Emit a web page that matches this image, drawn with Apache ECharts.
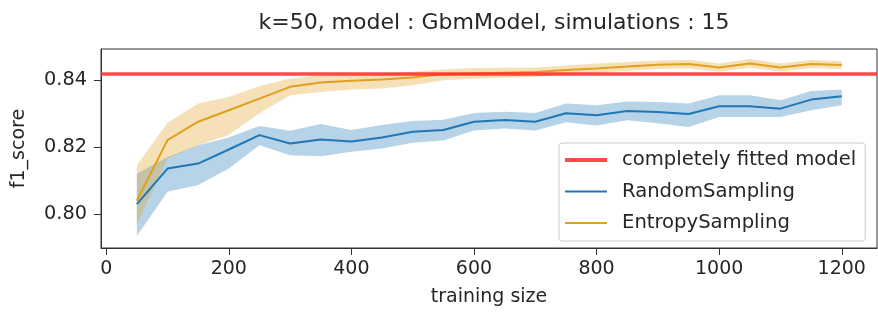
<!DOCTYPE html>
<html>
<head>
<meta charset="utf-8">
<script src="https://cdn.jsdelivr.net/npm/echarts@6/dist/echarts.min.js"></script>
<style>
  html, body { margin: 0; padding: 0; background: #fff; }
  #chart { width: 878px; height: 312px; }
</style>
</head>
<body>
<div id="chart"></div>
<script>
  // training sizes
  var sizes = [50, 100, 150, 200, 250, 300, 350, 400, 450, 500, 550, 600,
    650, 700, 750, 800, 850, 900, 950, 1000, 1050, 1100, 1150, 1200];

  var fittedScore = 0.842;

  // RandomSampling: mean and confidence band
  var randomMean = [0.8030, 0.8136, 0.8151, 0.8193, 0.8236, 0.8211, 0.8223, 0.8217,
    0.8229, 0.8246, 0.8251, 0.8276, 0.8281, 0.8276, 0.8301, 0.8295,
    0.8308, 0.8305, 0.8299, 0.8322, 0.8322, 0.8315, 0.8342, 0.8352];
  var randomLow = [0.7935, 0.8067, 0.8087, 0.8136, 0.8206, 0.8176, 0.8173, 0.8186,
    0.8196, 0.8213, 0.8220, 0.8250, 0.8256, 0.8250, 0.8274, 0.8265,
    0.8280, 0.8271, 0.8260, 0.8290, 0.8290, 0.8290, 0.8310, 0.8325];
  var randomHigh = [0.8121, 0.8171, 0.8206, 0.8229, 0.8263, 0.8249, 0.8269, 0.8251,
    0.8266, 0.8278, 0.8282, 0.8302, 0.8306, 0.8302, 0.8330, 0.8325,
    0.8336, 0.8335, 0.8330, 0.8355, 0.8355, 0.8340, 0.8368, 0.8372];

  // EntropySampling: mean and confidence band
  var entropyMean = [0.8040, 0.8221, 0.8276, 0.8310, 0.8345, 0.8380, 0.8393, 0.8398,
    0.8402, 0.8408, 0.8418, 0.8420, 0.8422, 0.8424, 0.8430, 0.8435,
    0.8441, 0.8446, 0.8448, 0.8438, 0.8450, 0.8438, 0.8448, 0.8445];
  var entropyLow = [0.7970, 0.8166, 0.8206, 0.8236, 0.8301, 0.8355, 0.8365, 0.8372,
    0.8375, 0.8385, 0.8400, 0.8404, 0.8407, 0.8410, 0.8416, 0.8422,
    0.8428, 0.8433, 0.8435, 0.8426, 0.8437, 0.8426, 0.8436, 0.8433];
  var entropyHigh = [0.8146, 0.8273, 0.8330, 0.8350, 0.8382, 0.8405, 0.8415, 0.8418,
    0.8420, 0.8425, 0.8432, 0.8436, 0.8437, 0.8438, 0.8444, 0.8450,
    0.8454, 0.8459, 0.8461, 0.8450, 0.8463, 0.8450, 0.8460, 0.8457];

  var xTicks = [0, 200, 400, 600, 800, 1000, 1200];
  var yTicks = [0.80, 0.82, 0.84];

  var FONT = 'DejaVu Sans';
  var BLUE = '#1f77b4';
  var ORANGE = '#e0a020';
  var RED = 'rgba(255,40,40,0.85)';
  var INK = '#262626';

  function pairs(ys) {
    return sizes.map(function (x, i) { return [x, ys[i]]; });
  }

  // confidence band drawn as one polygon through the axis scales
  function band(name, lo, hi, color) {
    return {
      name: name,
      type: 'custom',
      silent: true,
      z: 1,
      encode: { x: 0, y: [1, 2] },
      data: sizes.map(function (x, i) { return [x, lo[i], hi[i]]; }),
      renderItem: function (params, api) {
        if (params.dataIndexInside !== 0) return;
        var n = params.dataInsideLength;
        var pts = [];
        for (var i = 0; i < n; i++) pts.push(api.coord([api.value(0, i), api.value(2, i)]));
        for (var j = n - 1; j >= 0; j--) pts.push(api.coord([api.value(0, j), api.value(1, j)]));
        return {
          type: 'polygon',
          shape: { points: pts },
          style: { fill: color, stroke: null }
        };
      }
    };
  }

  var chart = echarts.init(document.getElementById('chart'));

  chart.setOption({
    animation: false,
    backgroundColor: '#fff',
    textStyle: { fontFamily: FONT },
    title: {
      text: 'k=50, model : GbmModel, simulations : 15',
      left: 489,
      top: 7,
      textAlign: 'center',
      textStyle: { fontFamily: FONT, fontSize: 22, fontWeight: 'normal', color: INK }
    },
    grid: {
      left: 101,
      right: 1,
      top: 49,
      bottom: 64,
      show: true,
      borderColor: '#333',
      borderWidth: 1,
      backgroundColor: 'transparent'
    },
    legend: {
      orient: 'vertical',
      left: 559,
      top: 143,
      padding: [7, 9, 8, 6],
      itemGap: 11.5,
      itemWidth: 42,
      itemHeight: 4,
      backgroundColor: '#fff',
      borderColor: '#ccc',
      borderWidth: 1,
      borderRadius: 3,
      textStyle: { fontFamily: FONT, fontSize: 19.6, color: INK, padding: [0, 0, 0, 10] },
      data: [
        { name: 'completely fitted model', icon: 'rect', itemStyle: { color: RED } },
        { name: 'RandomSampling', icon: 'path://M0,0 L42,0 L42,2 L0,2 Z' },
        { name: 'EntropySampling', icon: 'path://M0,0 L42,0 L42,2 L0,2 Z' }
      ]
    },
    xAxis: {
      type: 'value',
      min: -8.5,
      max: 1257.5,
      name: 'training size',
      nameLocation: 'middle',
      nameGap: 40,
      nameTextStyle: { fontFamily: FONT, fontSize: 19, color: INK },
      axisLine: { show: true, onZero: false, lineStyle: { color: '#333' } },
      axisTick: { show: true, length: 7, customValues: xTicks, lineStyle: { color: '#333' } },
      axisLabel: {
        customValues: xTicks, fontFamily: FONT, fontSize: 19, color: INK, margin: 12,
        formatter: function (v) { return String(v); }
      },
      splitLine: { show: false }
    },
    yAxis: {
      type: 'value',
      min: 0.7899,
      max: 0.8493,
      name: 'f1_score',
      nameLocation: 'middle',
      nameGap: 72,
      nameTextStyle: { fontFamily: FONT, fontSize: 19, color: INK },
      axisLine: { show: true, onZero: false, lineStyle: { color: '#333' } },
      axisTick: { show: true, length: 7, customValues: yTicks, lineStyle: { color: '#333' } },
      axisLabel: {
        customValues: yTicks,
        fontFamily: FONT, fontSize: 19.3, color: INK, margin: 14,
        formatter: function (v) { return v.toFixed(2); }
      },
      splitLine: { show: false }
    },
    series: [
      band('randBand', randomLow, randomHigh, 'rgba(31,119,180,0.32)'),
      band('entBand', entropyLow, entropyHigh, 'rgba(224,160,32,0.32)'),
      {
        name: 'completely fitted model',
        type: 'line',
        data: [],
        color: RED,
        markLine: {
          silent: true,
          symbol: 'none',
          precision: 4,
          label: { show: false },
          lineStyle: { color: RED, width: 3.5, type: 'solid' },
          data: [{ yAxis: fittedScore }]
        },
        z: 2
      },
      {
        name: 'RandomSampling',
        type: 'line',
        data: pairs(randomMean),
        color: BLUE,
        showSymbol: false,
        lineStyle: { width: 2, color: BLUE },
        z: 3
      },
      {
        name: 'EntropySampling',
        type: 'line',
        data: pairs(entropyMean),
        color: ORANGE,
        showSymbol: false,
        lineStyle: { width: 2, color: ORANGE },
        z: 3
      }
    ]
  });
</script>
</body>
</html>
